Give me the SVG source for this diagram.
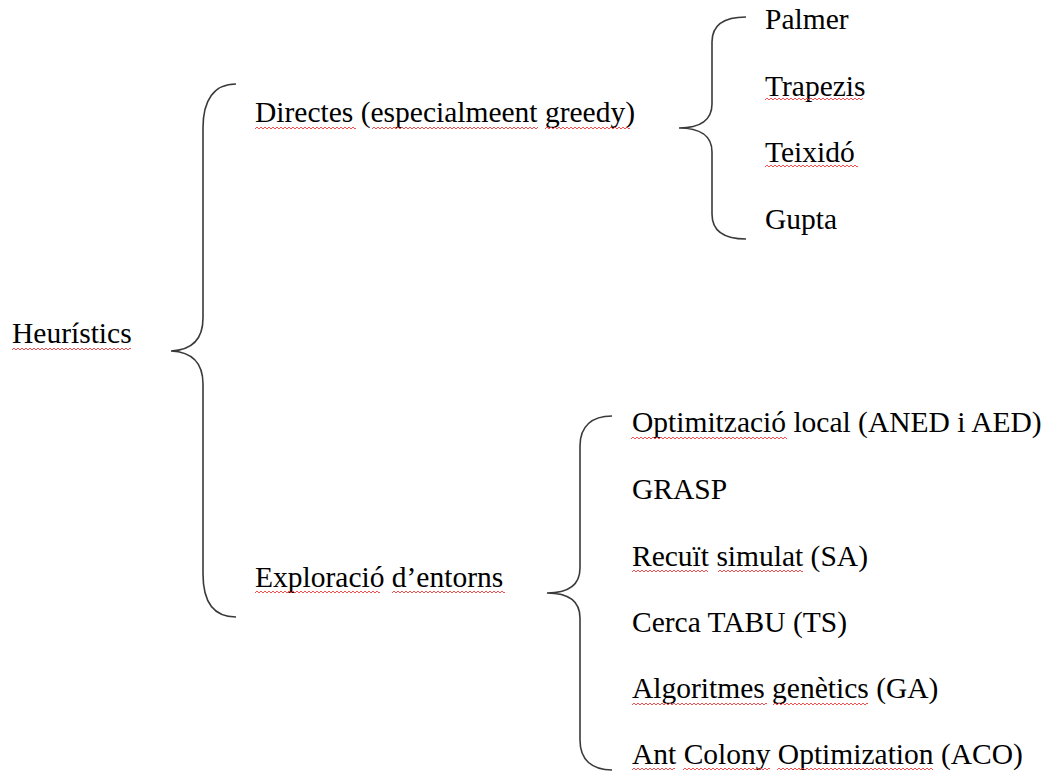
<svg xmlns="http://www.w3.org/2000/svg" width="1047" height="772" viewBox="0 0 1047 772">
  <style>
    .t { font-family: "Liberation Serif", "Times New Roman", serif; font-size: 29.5px; fill: #000; }
    .brace { fill: none; stroke: #3a3a3a; stroke-width: 1.6; }
    .sq { fill: url(#squiggle); }
  </style>
  <defs>
    <!-- spell-check style wavy underline tile -->
    <pattern id="squiggle" patternUnits="userSpaceOnUse" width="4" height="4">
      <path d="M0,3 L2,1 L4,3" fill="none" stroke="#f03c3c" stroke-width="0.9"/>
    </pattern>
  </defs>
  <rect width="1047" height="772" fill="#fff"/>

  <g id="connectors">
    <path class="brace" d="M236,84 C214,84 203,100 203,128 L203,318 C203,340 192,350 171,351 C192,352 203,362 203,384 L203,574 C203,602 214,617 236,617"/>
    <path class="brace" d="M746,17 C724,17 712,25 712,42 L712,104 C712,120 700,128 679,128 C700,128 712,136 712,152 L712,214 C712,231 724,239 746,239"/>
    <path class="brace" d="M612,416 C592,416 580,426 580,446 L580,568 C580,585 568,593 547,593 C568,593 580,601 580,618 L580,740 C580,760 592,770 612,770"/>
  </g>

  <g id="heuristics">
    <text class="t" x="12" y="343">Heurístics</text>
    <rect class="sq" transform="translate(12,347)" width="119" height="4"/>
  </g>

  <g id="directes">
    <text class="t" x="255" y="122">Directes (especialmeent greedy)</text>
    <rect class="sq" transform="translate(255,126)" width="101" height="4"/>
    <rect class="sq" transform="translate(372,126)" width="166" height="4"/>
    <rect class="sq" transform="translate(545,126)" width="85" height="4"/>
  </g>

  <g id="palmer">
    <text class="t" x="765" y="29">Palmer</text>
  </g>
  <g id="trapezis">
    <text class="t" x="765" y="95.5">Trapezis</text>
    <rect class="sq" transform="translate(765,97)" width="98" height="4"/>
  </g>
  <g id="teixido">
    <text class="t" x="765" y="162">Teixidó</text>
    <rect class="sq" transform="translate(765,164)" width="93" height="4"/>
  </g>
  <g id="gupta">
    <text class="t" x="765" y="228.5">Gupta</text>
  </g>

  <g id="exploracio">
    <text class="t" x="255" y="587">Exploració d’entorns</text>
    <rect class="sq" transform="translate(255,590)" width="125" height="4"/>
    <rect class="sq" transform="translate(392,590)" width="113" height="4"/>
  </g>

  <g id="optimitzacio">
    <text class="t" x="632" y="432">Optimització local (ANED i AED)</text>
    <rect class="sq" transform="translate(631,436)" width="156" height="4"/>
  </g>
  <g id="grasp">
    <text class="t" x="632" y="499">GRASP</text>
  </g>
  <g id="recuit">
    <text class="t" x="632" y="566">Recuït simulat (SA)</text>
    <rect class="sq" transform="translate(632,569)" width="76" height="4"/>
    <rect class="sq" transform="translate(718,569)" width="85" height="4"/>
  </g>
  <g id="tabu">
    <text class="t" x="632" y="632">Cerca TABU (TS)</text>
  </g>
  <g id="genetics">
    <text class="t" x="632" y="698">Algoritmes genètics (GA)</text>
    <rect class="sq" transform="translate(632,702)" width="135" height="4"/>
    <rect class="sq" transform="translate(773,702)" width="95" height="4"/>
  </g>
  <g id="aco">
    <text class="t" x="632" y="764">Ant Colony Optimization (ACO)</text>
    <rect class="sq" transform="translate(632,767)" width="43" height="4"/>
    <rect class="sq" transform="translate(683,767)" width="87" height="4"/>
    <rect class="sq" transform="translate(777,767)" width="156" height="4"/>
  </g>
</svg>
